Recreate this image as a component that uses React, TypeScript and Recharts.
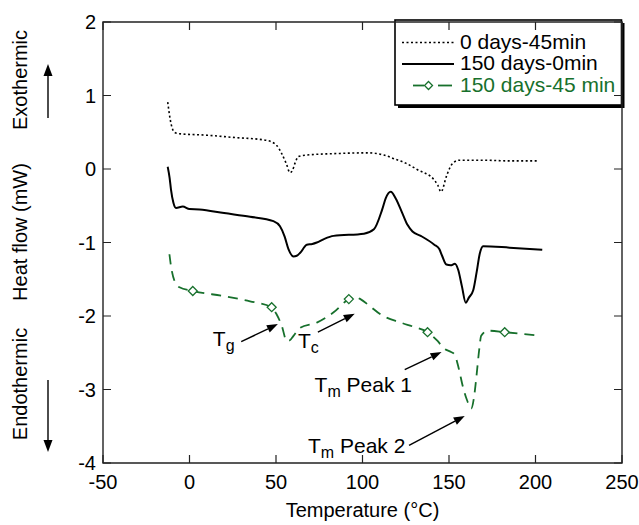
import React from 'react';
import { LineChart, Line, XAxis, YAxis, ReferenceLine, ReferenceDot, Legend } from 'recharts';

const FONT = '"Liberation Sans", Arial, Helvetica, sans-serif';
const GREEN = '#17702c';
const AXIS = '#222';
const W = 639;
const H = 525;
const TOP = 22;
const RIGHT = 17;
const YAXIS_W = 103;
const XAXIS_H = 62;

const xTicks = [-50, 0, 50, 100, 150, 200, 250];
const yTicks = [-4, -3, -2, -1, 0, 1, 2];
const seriesNames = ['0 days-45min', '150 days-0min', '150 days-45 min'];

// 0 days - 45 min (dotted)
const dottedT = [-12.6, -10.7, -8.7, -5.8, 10, 25, 44.6, 50.4, 53.3, 56, 58.1, 59.5, 61, 63, 67.8, 85, 102.7, 112.4, 118.2, 125, 131.8, 141.5, 143.5, 145.4, 148.5, 151, 153.4, 156, 170, 185, 202];
const dottedHF = [0.91, 0.62, 0.5, 0.48, 0.46, 0.43, 0.39, 0.32, 0.21, 0.07, -0.05, -0.02, 0.08, 0.17, 0.19, 0.21, 0.22, 0.19, 0.14, 0.08, -0.01, -0.15, -0.22, -0.31, -0.1, 0.04, 0.1, 0.12, 0.12, 0.11, 0.11];

// 150 days - 0 min (solid)
const solidT = [-12.6, -11.5, -10.7, -9.3, -7.8, -3.9, 0, 5.8, 20, 35, 48.5, 52.3, 55, 57.2, 60.1, 62, 64, 67.8, 71, 73.6, 78, 83.3, 100.8, 106.6, 111.4, 113.4, 116.3, 119.2, 123, 126, 128.9, 133.7, 141.5, 144.4, 146, 148.5, 151, 153.4, 155.3, 157.5, 159.7, 161.5, 164, 166, 167.8, 169.7, 185, 203.9];
const solidHF = [0.03, -0.12, -0.28, -0.46, -0.53, -0.51, -0.545, -0.55, -0.6, -0.65, -0.71, -0.78, -0.92, -1.09, -1.19, -1.18, -1.14, -1.03, -1.02, -1.0, -0.95, -0.91, -0.88, -0.82, -0.55, -0.4, -0.31, -0.4, -0.6, -0.76, -0.85, -0.91, -1.03, -1.09, -1.18, -1.3, -1.31, -1.29, -1.37, -1.6, -1.82, -1.75, -1.65, -1.4, -1.15, -1.05, -1.07, -1.1];

// 150 days - 45 min (green dashed, open diamonds)
const greenT = [-11.6, -10.7, -8.7, -5.8, 1.9, 20, 35, 47.5, 50.4, 53.3, 56.2, 58, 60.1, 64, 73.6, 83.3, 92.1, 95.5, 98.8, 104, 110.5, 122.1, 130, 137.6, 143.4, 147, 151.2, 153.1, 155.5, 157.9, 160.5, 162.8, 164.5, 165.7, 167.5, 168.6, 172.5, 182.2, 203];
const greenHF = [-1.16, -1.32, -1.52, -1.61, -1.66, -1.73, -1.8, -1.88, -1.98, -2.13, -2.34, -2.33, -2.27, -2.16, -2.09, -1.95, -1.77, -1.74, -1.77, -1.86, -1.98, -2.09, -2.15, -2.22, -2.34, -2.44, -2.49, -2.52, -2.7, -2.95, -3.15, -3.26, -3.1, -2.86, -2.45, -2.27, -2.2, -2.22, -2.27];
const markerT = [1.9, 47.5, 92.1, 137.6, 182.2];

// annotation labels (T + subscript + rest) and arrows, in data units
const noteSub = ['g', 'c', 'm', 'm'];
const noteRest = ['', '', ' Peak 1', ' Peak 2'];
const noteX = [13.5, 62.7, 72.3, 68.5];
const noteY = [-2.41, -2.43, -3.04, -3.87];
const arrowFrom = [[29.9, -2.35], [74.2, -2.22], [124.4, -2.73], [126.9, -3.76]];
const arrowTo = [[51.1, -2.11], [95.5, -1.97], [145.7, -2.49], [159.1, -3.36]];

const zip = (t: number[], hf: number[]) => t.map((v, i) => ({ t: v, hf: hf[i] }));
const dottedData = zip(dottedT, dottedHF);
const solidData = zip(solidT, solidHF);
const greenData = zip(greenT, greenHF);

const X0 = xTicks[0];
const X1 = xTicks[xTicks.length - 1];
const Y0 = yTicks[0];
const Y1 = yTicks[yTicks.length - 1];

const diamond = (cx: number, cy: number, r: number) =>
  `M${cx},${cy - r} L${cx + r},${cy} L${cx},${cy + r} L${cx - r},${cy} Z`;

const DiamondDot = (props: any) => {
  const { cx, cy, payload, index } = props;
  if (!markerT.includes(payload.t)) return <g key={index} />;
  return <path key={index} d={diamond(cx, cy, 4.5)} fill="#fff" stroke={GREEN} strokeWidth={1.3} />;
};

const arrowShape = (head: number, half: number, width: number) => (p: any) => {
  const { x1, y1, x2, y2 } = p;
  const a = Math.atan2(y2 - y1, x2 - x1);
  const bx = x2 - head * Math.cos(a);
  const by = y2 - head * Math.sin(a);
  const px = -Math.sin(a) * half;
  const py = Math.cos(a) * half;
  return (
    <g>
      <line x1={x1} y1={y1} x2={bx} y2={by} stroke="#000" strokeWidth={width} />
      <polygon points={`${x2},${y2} ${bx + px},${by + py} ${bx - px},${by - py}`} fill="#000" />
    </g>
  );
};
const Arrow = arrowShape(11, 4, 1.4);

const noteShape = (i: number) => (p: any) => (
  <text x={p.cx} y={p.cy} fontFamily={FONT} fontSize={21} fill="#000" style={{ whiteSpace: 'pre' }}>
    T
    <tspan fontSize={16} dy={5}>{noteSub[i]}</tspan>
    {noteRest[i] ? <tspan fontSize={21} dy={-5}>{noteRest[i]}</tspan> : null}
  </text>
);

// plot box edges (follow from the chart margins and axis sizes)
const TICK = 8;
const PL = YAXIS_W;
const PR = W - RIGHT;
const PT = TOP;
const PB = H - XAXIS_H;
const fx = (v: number) => PL + ((v - X0) / (X1 - X0)) * (PR - PL);
const fy = (v: number) => PB - ((v - Y0) / (Y1 - Y0)) * (PB - PT);

// box frame with inward ticks on all four sides, laid over the chart
const FrameOverlay = () => (
  <svg width={W} height={H} style={{ position: 'absolute', left: 0, top: 0, pointerEvents: 'none' }}>
    <path
      fill="none"
      stroke={AXIS}
      strokeWidth={1.2}
      d={[
        ...xTicks.map((v) => `M${fx(v)},${PB} V${PB - TICK} M${fx(v)},${PT} V${PT + TICK}`),
        ...yTicks.map((v) => `M${PL},${fy(v)} H${PL + TICK} M${PR},${fy(v)} H${PR - TICK}`),
      ].join(' ')}
    />
    <path fill="none" stroke={AXIS} strokeWidth={1.4} d={`M${PL},${PT} H${PR} V${PB} H${PL} Z`} />
  </svg>
);

const XTitle = () => (
  <text x={(PL + PR) / 2} y={517} textAnchor="middle" fontFamily={FONT} fontSize={20} fill="#000">
    Temperature (°C)
  </text>
);

const YTitle = () => {
  const bx = 27;
  const items = [
    { label: 'Exothermic', cy: 80 },
    { label: 'Heat flow (mW)', cy: 232 },
    { label: 'Endothermic', cy: 384 },
  ];
  const up = arrowShape(12, 4.5, 1.4);
  return (
    <g>
      {items.map((it) => (
        <text key={it.label} x={bx} y={it.cy} textAnchor="middle" transform={`rotate(-90 ${bx} ${it.cy})`}
          fontFamily={FONT} fontSize={20} fill="#000">{it.label}</text>
      ))}
      {up({ x1: 48, y1: 118, x2: 48, y2: 64 })}
      {up({ x1: 48, y1: 380, x2: 48, y2: 452 })}
    </g>
  );
};

const LegendBox = () => {
  const textX = 67;
  const rows = [30.5, 52, 73.5];
  return (
    <svg width={235} height={95} style={{ display: 'block' }}>
      <rect x={5} y={5} width={226.5} height={85} fill="#000" />
      <rect x={2} y={2} width={226.5} height={85} fill="#fff" stroke="#000" strokeWidth={1.6} />
      <line x1={9} y1={rows[0] - 6} x2={62} y2={rows[0] - 6} stroke="#000" strokeWidth={1.5} strokeDasharray="2 2.5" />
      <line x1={9} y1={rows[1] - 6} x2={61} y2={rows[1] - 6} stroke="#000" strokeWidth={1.8} />
      <line x1={20} y1={rows[2] - 6} x2={31} y2={rows[2] - 6} stroke={GREEN} strokeWidth={1.8} />
      <path d={diamond(35.5, rows[2] - 6, 4)} fill="#fff" stroke={GREEN} strokeWidth={1.3} />
      <line x1={45} y1={rows[2] - 6} x2={59} y2={rows[2] - 6} stroke={GREEN} strokeWidth={1.8} />
      {seriesNames.map((n, i) => (
        <text key={n} x={textX} y={rows[i]} fontFamily={FONT} fontSize={21} fill={i === 2 ? GREEN : '#000'}>{n}</text>
      ))}
    </svg>
  );
};

export default function App() {
  const tickStyle = { fontSize: 20, fill: '#000', fontFamily: FONT };
  const ref = { ifOverflow: 'visible' as const, xAxisId: 'b', yAxisId: 'l' };
  return (
    <div style={{ position: 'absolute', left: 0, top: 0, width: W, height: H, background: '#fff' }}>
      <LineChart width={W} height={H} margin={{ top: TOP, right: RIGHT, left: 0, bottom: 0 }}>
        <XAxis xAxisId="b" dataKey="t" type="number" domain={[X0, X1]} ticks={xTicks} allowDataOverflow
          height={XAXIS_H} tickSize={-8} tickMargin={20} tick={tickStyle} axisLine={false} tickLine={false}
          label={() => <XTitle />} />
        <YAxis yAxisId="l" type="number" domain={[Y0, Y1]} ticks={yTicks} allowDataOverflow
          width={YAXIS_W} tickSize={-8} tickMargin={15} tick={tickStyle} axisLine={false} tickLine={false}
          label={() => <YTitle />} />

        <Line xAxisId="b" yAxisId="l" data={dottedData} dataKey="hf" type="monotone" stroke="#000"
          strokeWidth={1.6} strokeDasharray="2 2.5" dot={false} isAnimationActive={false} name={seriesNames[0]} />
        <Line xAxisId="b" yAxisId="l" data={solidData} dataKey="hf" type="monotone" stroke="#000"
          strokeWidth={2} dot={false} isAnimationActive={false} name={seriesNames[1]} />
        <Line xAxisId="b" yAxisId="l" data={greenData} dataKey="hf" type="monotone" stroke={GREEN}
          strokeWidth={1.8} strokeDasharray="10 7" dot={DiamondDot} isAnimationActive={false} name={seriesNames[2]} />

        {arrowFrom.map((f, i) => (
          <ReferenceLine key={`a${i}`} {...ref}
            segment={[{ x: f[0], y: f[1] }, { x: arrowTo[i][0], y: arrowTo[i][1] }]} shape={Arrow} />
        ))}
        {noteX.map((x, i) => (
          <ReferenceDot key={`n${i}`} {...ref} x={x} y={noteY[i]} r={0} shape={noteShape(i)} />
        ))}

        <Legend layout="vertical" align="center" verticalAlign="middle" width={235} height={95}
          wrapperStyle={{ left: 393, top: 18, width: 235, height: 95 }} content={() => <LegendBox />} />
      </LineChart>
      <FrameOverlay />
    </div>
  );
}
